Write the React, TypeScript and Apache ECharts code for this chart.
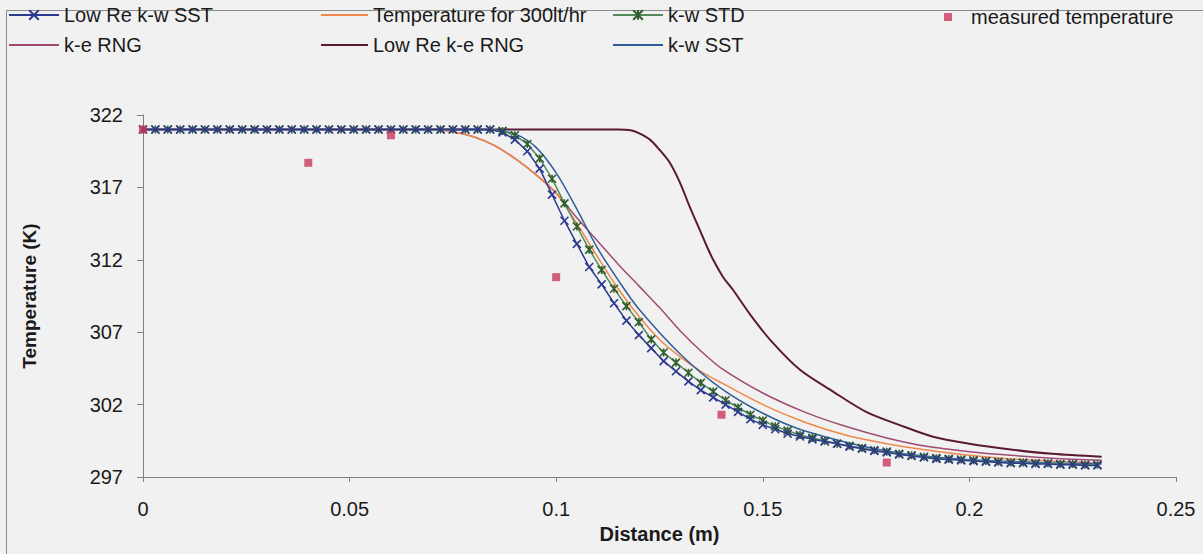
import React, { useEffect, useRef } from "react";
import * as echarts from "echarts";

// ---------- data ----------
const markerDistance = [
  0, 0.003, 0.006, 0.009, 0.012, 0.015, 0.018, 0.021, 0.024, 0.027, 0.03, 0.033, 0.036, 0.039, 0.042,
  0.045, 0.048, 0.051, 0.054, 0.057, 0.06, 0.063, 0.066, 0.069, 0.072, 0.075, 0.078, 0.081, 0.084,
  0.087, 0.09, 0.093, 0.096, 0.099, 0.102, 0.105, 0.108, 0.111, 0.114, 0.117, 0.12, 0.123, 0.126,
  0.129, 0.132, 0.135, 0.138, 0.141, 0.144, 0.147, 0.15, 0.153, 0.156, 0.159, 0.162, 0.165, 0.168,
  0.171, 0.174, 0.177, 0.18, 0.183, 0.186, 0.189, 0.192, 0.195, 0.198, 0.201, 0.204, 0.207, 0.21,
  0.213, 0.216, 0.219, 0.222, 0.225, 0.228, 0.231,
];

const lowReKwSstTemp = [
  321, 321, 321, 321, 321, 321, 321, 321, 321, 321, 321, 321, 321, 321, 321,
  321, 321, 321, 321, 321, 321, 321, 321, 321, 321, 321, 321, 321, 321,
  320.8, 320.3, 319.5, 318.3, 316.5, 314.7, 313.1, 311.5, 310.3, 309.0, 307.8, 306.8, 305.9, 305.0,
  304.3, 303.6, 303.0, 302.5, 302.0, 301.5, 301.0, 300.6, 300.3, 300.0, 299.8, 299.6, 299.45, 299.3,
  299.1, 298.95, 298.8, 298.7, 298.55, 298.45, 298.35, 298.25, 298.2, 298.15, 298.1, 298.05, 298.0, 297.95,
  297.95, 297.9, 297.9, 297.85, 297.85, 297.8, 297.8,
];

const kwStdTemp = [
  321, 321, 321, 321, 321, 321, 321, 321, 321, 321, 321, 321, 321, 321, 321,
  321, 321, 321, 321, 321, 321, 321, 321, 321, 321, 321, 321, 321, 321,
  320.9, 320.6, 320.0, 319.0, 317.6, 315.9, 314.3, 312.7, 311.3, 310.0, 308.8, 307.7, 306.5, 305.6,
  304.9, 304.2, 303.5, 302.9, 302.3, 301.8, 301.3, 300.9, 300.5, 300.2, 299.9, 299.7, 299.5, 299.3,
  299.15, 299.0, 298.85, 298.75, 298.6, 298.5, 298.4, 298.3, 298.25, 298.2, 298.15, 298.1, 298.05, 298.0,
  298.0, 297.95, 297.95, 297.9, 297.9, 297.85, 297.85,
];

const kwSstDistance = [0, 0.08, 0.085, 0.09, 0.095, 0.1, 0.105, 0.11, 0.115, 0.12, 0.13, 0.14, 0.15, 0.16, 0.18, 0.2, 0.232];
const kwSstTemp = [321, 321, 320.95, 320.7, 319.8, 318.0, 315.5, 312.8, 310.6, 308.6, 305.5, 303.1, 301.4, 300.2, 298.8, 298.2, 297.9];

const expDistance = [0, 0.07, 0.075, 0.08, 0.085, 0.09, 0.095, 0.1, 0.105, 0.11, 0.115, 0.12, 0.125, 0.13, 0.135, 0.14, 0.15, 0.16, 0.17, 0.18, 0.19, 0.2, 0.21, 0.22, 0.232];
const temp300Temp = [321, 321, 320.85, 320.5, 319.9, 319.0, 317.9, 316.6, 314.5, 312.2, 310.0, 308.1, 306.5, 305.3, 304.3, 303.5, 302.0, 300.8, 299.9, 299.3, 298.85, 298.5, 298.25, 298.1, 297.95];
const keRngTemp = [321, 321, 320.85, 320.5, 319.9, 319.0, 317.9, 316.6, 314.9, 313.3, 311.7, 310.2, 308.7, 307.1, 305.7, 304.5, 302.8, 301.5, 300.5, 299.7, 299.1, 298.75, 298.5, 298.3, 298.15];

const lowReKeRngDistance = [0, 0.1, 0.115, 0.118, 0.12, 0.1227, 0.125, 0.1275, 0.13, 0.1324, 0.135, 0.1365, 0.138, 0.1404, 0.1426, 0.147, 0.152, 0.159, 0.167, 0.175, 0.183, 0.191, 0.2, 0.21, 0.22, 0.232];
const lowReKeRngTemp = [321, 321, 321, 320.95, 320.75, 320.3, 319.6, 318.7, 317.3, 315.6, 313.9, 312.9, 312.0, 310.8, 310.0, 308.2, 306.4, 304.4, 302.9, 301.5, 300.6, 299.8, 299.3, 298.9, 298.6, 298.4];

const measuredDistance = [0, 0.04, 0.06, 0.1, 0.14, 0.18];
const measuredTemp = [321, 318.7, 320.6, 310.8, 301.3, 298.0];

const yTickValues = [297, 302, 307, 312, 317, 322];
const xTickInterval = 0.05;

// ---------- styling ----------
const FONT = "'Liberation Sans', Arial, sans-serif";
const C_LOWRE_KW_SST = "#2d3990";
const C_TEMP300 = "#f0884a";
const C_KW_STD_LINE = "#4f8c5a";
const C_KW_STD_MARK = "#2f5f2a";
const C_KE_RNG = "#a04b74";
const C_LOWRE_KE_RNG = "#5a1a33";
const C_KW_SST = "#2f5f96";
const C_MEASURED = "#c8385c";

const X_SYMBOL = "path://M0,0L10,10M10,0L0,10";
const STAR_SYMBOL = "path://M0,0L10,10M10,0L0,10M5,0L5,10";

const zip = (xs: number[], ys: number[]) => xs.map((x, i) => [x, ys[i]]);

export default function App() {
  const ref = useRef<HTMLDivElement>(null);

  useEffect(() => {
    if (!ref.current) return;
    const chart = echarts.init(ref.current, undefined, { renderer: "svg" });

    const legendBase = {
      orient: "horizontal",
      padding: 0,
      itemGap: 0,
      itemHeight: 12,
      textStyle: { fontSize: 20, color: "#1a1a1a", fontFamily: FONT },
    };
    const plainLine = { itemStyle: { opacity: 0, borderWidth: 0 } };

    const option: any = {
      animation: false,
      backgroundColor: "#f1f1f1",
      graphic: [
        {
          type: "rect",
          shape: { x: 6.5, y: 10.5, width: 1300, height: 600 },
          style: { fill: "none", stroke: "#8a8a8a", lineWidth: 1 },
          silent: true,
          z: -1,
        },
      ],
      legend: [
        { ...legendBase, data: ["Low Re k-w SST"], left: 8, top: 5, itemWidth: 50 },
        { ...legendBase, ...plainLine, data: ["Temperature for 300lt/hr"], left: 320, top: 5, itemWidth: 47 },
        { ...legendBase, data: ["k-w STD"], left: 612, top: 5, itemWidth: 50 },
        {
          ...legendBase,
          data: ["measured temperature"],
          left: 944,
          top: 7,
          itemWidth: 8,
          itemHeight: 8,
          textStyle: { ...legendBase.textStyle, padding: [0, 0, 0, 14] },
        },
        { ...legendBase, ...plainLine, data: ["k-e RNG"], left: 8, top: 35, itemWidth: 50 },
        { ...legendBase, ...plainLine, data: ["Low Re k-e RNG"], left: 320, top: 35, itemWidth: 47 },
        { ...legendBase, ...plainLine, data: ["k-w SST"], left: 612, top: 35, itemWidth: 50 },
      ],
      grid: { left: 143, right: 27, top: 115, bottom: 77, containLabel: false },
      xAxis: {
        type: "value",
        min: 0,
        max: 0.25,
        interval: xTickInterval,
        axisLine: { show: true, lineStyle: { color: "#808080", width: 1 } },
        axisTick: { show: true, length: 5, lineStyle: { color: "#808080" } },
        axisLabel: { color: "#1a1a1a", fontSize: 20, margin: 22, fontFamily: FONT },
        splitLine: { show: false },
        name: "Distance (m)",
        nameLocation: "middle",
        nameGap: 43,
        nameTextStyle: { fontWeight: "bold", fontSize: 20, color: "#1a1a1a", fontFamily: FONT },
      },
      yAxis: {
        type: "value",
        min: 297,
        max: 322,
        axisLine: { show: true, lineStyle: { color: "#808080", width: 1 } },
        axisTick: { show: true, length: 6, customValues: yTickValues, lineStyle: { color: "#808080" } },
        axisLabel: { color: "#1a1a1a", fontSize: 20, margin: 20, fontFamily: FONT, customValues: yTickValues },
        splitLine: { show: false },
        name: "Temperature (K)",
        nameLocation: "middle",
        nameGap: 104,
        nameRotate: 90,
        nameTextStyle: { fontWeight: "bold", fontSize: 19, color: "#1a1a1a", fontFamily: FONT },
      },
      series: [
        {
          name: "Low Re k-e RNG",
          type: "line",
          data: zip(lowReKeRngDistance, lowReKeRngTemp),
          smooth: 0.3,
          symbol: "none",
          lineStyle: { color: C_LOWRE_KE_RNG, width: 2 },
          itemStyle: { color: C_LOWRE_KE_RNG },
        },
        {
          name: "k-e RNG",
          type: "line",
          data: zip(expDistance, keRngTemp),
          smooth: 0.3,
          symbol: "none",
          lineStyle: { color: C_KE_RNG, width: 1.5 },
          itemStyle: { color: C_KE_RNG },
        },
        {
          name: "Temperature for 300lt/hr",
          type: "line",
          data: zip(expDistance, temp300Temp),
          smooth: 0.3,
          symbol: "none",
          lineStyle: { color: C_TEMP300, width: 1.5 },
          itemStyle: { color: C_TEMP300 },
        },
        {
          name: "k-w SST",
          type: "line",
          data: zip(kwSstDistance, kwSstTemp),
          smooth: 0.3,
          symbol: "none",
          lineStyle: { color: C_KW_SST, width: 1.5 },
          itemStyle: { color: C_KW_SST },
        },
        {
          name: "k-w STD",
          type: "line",
          data: zip(markerDistance, kwStdTemp),
          symbol: STAR_SYMBOL,
          symbolSize: 8,
          showSymbol: true,
          lineStyle: { color: C_KW_STD_LINE, width: 1.5 },
          itemStyle: { color: C_KW_STD_MARK, borderColor: C_KW_STD_MARK, borderWidth: 1.6 },
        },
        {
          name: "Low Re k-w SST",
          type: "line",
          data: zip(markerDistance, lowReKwSstTemp),
          symbol: X_SYMBOL,
          symbolSize: 8,
          showSymbol: true,
          lineStyle: { color: C_LOWRE_KW_SST, width: 1.5 },
          itemStyle: { color: C_LOWRE_KW_SST, borderColor: C_LOWRE_KW_SST, borderWidth: 1.6 },
        },
        {
          name: "measured temperature",
          type: "scatter",
          data: zip(measuredDistance, measuredTemp),
          symbol: "rect",
          symbolSize: 8,
          itemStyle: { color: C_MEASURED },
          z: 5,
        },
      ],
    };

    chart.setOption(option);
    return () => chart.dispose();
  }, []);

  return (
    <div
      ref={ref}
      style={{ position: "absolute", left: 0, top: 0, width: 1203, height: 554 }}
    />
  );
}
